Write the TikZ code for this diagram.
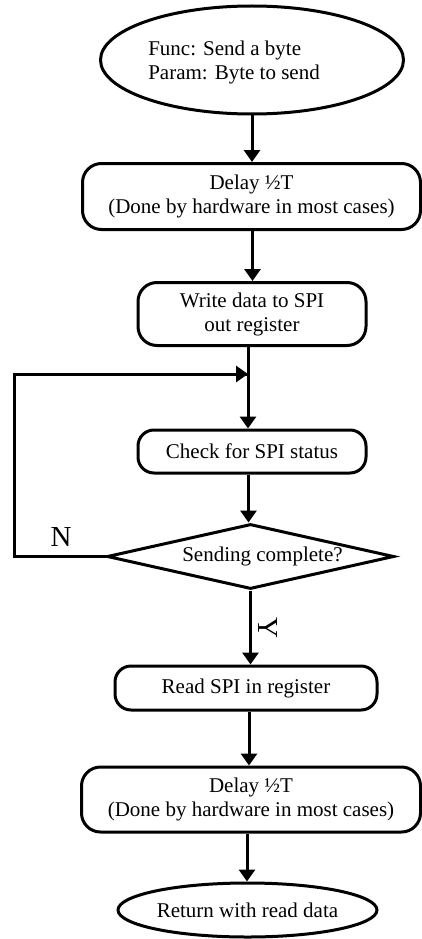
\documentclass[tikz,border=0pt]{standalone}
\usepackage{fontspec}
\setmainfont{Liberation Serif}
\usetikzlibrary{shapes.geometric,arrows.meta}
\tikzset{
  base/.style={draw=black, line width=3pt, inner sep=0pt, align=center, font=\fontsize{21}{24}\selectfont},
  roundbox/.style={base, rectangle, rounded corners=19pt},
  oval/.style={base, ellipse},
  arr/.style={line width=3pt, -{Triangle[width=16pt,length=12pt]}},
  lbl/.style={font=\fontsize{21}{24}\selectfont, inner sep=0pt},
  biglbl/.style={font=\fontsize{29}{32}\selectfont, inner sep=0pt}
}
\begin{document}
\begin{tikzpicture}[x=1pt,y=1pt]
\useasboundingbox (0,0) rectangle (422,-939);
\node[oval, minimum width=303pt, minimum height=108pt,
  label={[lbl, align=left, xshift=-18pt, yshift=-2pt]center:Func: Send a byte\\Param: Byte to send}] (start) at (252,-60) {};
\node[roundbox, minimum width=338pt, minimum height=66pt] (delay1) at (251.5,-196.5) {Delay ½T\\(Done by hardware in most cases)};
\node[roundbox, minimum width=228pt, minimum height=63pt] (write) at (252,-314) {Write data to SPI\\out register};
\node[roundbox, rounded corners=16pt, minimum width=228pt, minimum height=43pt] (check) at (252,-451.5) {Check for SPI status};
\node[draw=black, line width=3pt, diamond, minimum width=287pt, minimum height=65pt, inner sep=0pt,
  label={[lbl, xshift=12pt]center:Sending complete?}] (done) at (250.5,-556.5) {};
\node[roundbox, rounded corners=16pt, minimum width=262pt, minimum height=44pt] (read) at (246,-688) {Read SPI in register};
\node[roundbox, minimum width=339pt, minimum height=65pt] (delay2) at (251,-799.5) {Delay ½T\\(Done by hardware in most cases)};
\node[oval, minimum width=259pt, minimum height=54pt] (stop) at (247.5,-910) {Return with read data};
\coordinate (join) at (248,-374);
\coordinate (loopc) at (14,-556.5);
\draw[arr] (start.south) -- (start.south |- delay1.north);
\draw[arr] ([xshift=1pt]delay1.south) -- ([xshift=1pt]delay1.south |- write.north);
\draw[line width=3pt] ([xshift=-4pt]write.south) -- (join);
\draw[arr] (join) -- (join |- check.north);
\draw[arr] ([xshift=-3.5pt]check.south) -- ([xshift=-3.5pt]check.south |- done.north);
\draw[line width=3pt, line join=miter] (done.west) -- (loopc) -- (loopc |- join) -- ([xshift=-1.5pt]join);
\draw[arr] (loopc |- join) -- (join);
\draw[arr] (done.south) -- (done.south |- read.north);
\draw[arr] ([xshift=3pt]read.south) -- ([xshift=3pt]read.south |- delay2.north);
\draw[arr] ([xshift=-4pt]delay2.south) -- ([xshift=-4pt]delay2.south |- stop.north);
\node[biglbl] (nlab) at (61,-537) {N};
\node[biglbl, rotate=-90] (ylab) at (268,-628) {Y};
\end{tikzpicture}
\end{document}
